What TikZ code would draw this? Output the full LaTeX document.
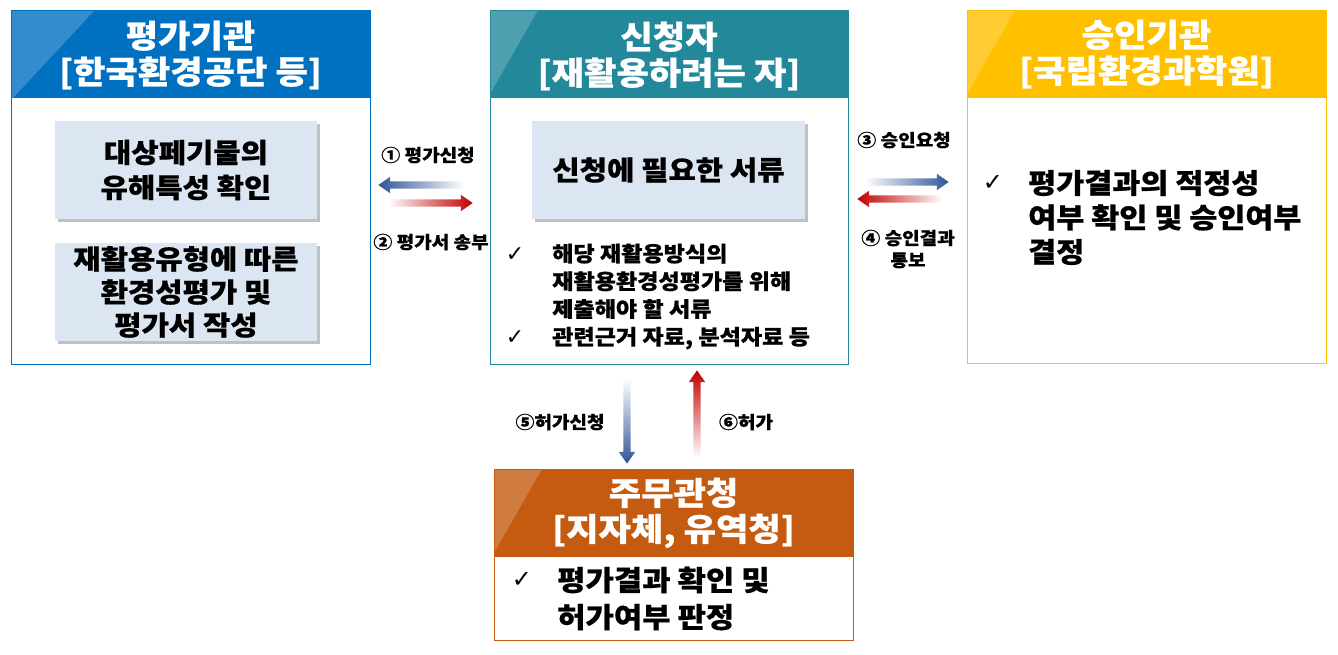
\documentclass[tikz,border=0pt]{standalone}
\usepackage{fontspec}
\setmainfont{Noto Sans CJK KR}[FakeStretch=1.1, BoldFeatures={FakeStretch=1.1, FakeBold=0.6}]
\newfontfamily\symfont{DejaVu Sans}
\usetikzlibrary{shapes.arrows,shadows}
\definecolor{hblue}{HTML}{0070C0}
\definecolor{hteal}{HTML}{23899A}
\definecolor{hyel}{HTML}{FFC000}
\definecolor{horg}{HTML}{C55A11}
\definecolor{boxfill}{HTML}{DCE6F2}
\definecolor{arblue}{HTML}{2F5597}
\definecolor{arred}{HTML}{C00000}
\tikzset{
  panel/.style={draw, line width=1.2pt, fill=none, inner sep=0, anchor=north west},
  hdr/.style={inner sep=0, anchor=north west, minimum height=88pt},
  ttl/.style={text=white, align=center, inner sep=0, font={\fontsize{32}{36}\selectfont\bfseries}},
  ibox/.style={fill=boxfill, inner sep=0, align=center, minimum width=262pt, minimum height=98pt,
     drop shadow={shadow xshift=3pt, shadow yshift=-3pt, opacity=0.35, fill=black!70},
     font={\fontsize{27}{35}\selectfont\bfseries}},
  chk/.style={inner sep=0, font={\symfont\fontsize{22}{24}\selectfont}},
  blist/.style={inner sep=0, anchor=west, align=left},
  lbl/.style={inner sep=0, font={\fontsize{17.3}{22}\selectfont\bfseries}},
  arw/.style={single arrow, draw=none, inner sep=0, inner ysep=3.5pt, single arrow head extend=4.5pt,
     single arrow tip angle=70, single arrow head indent=0pt},
}
\begin{document}
\begin{tikzpicture}[x=1pt,y=-1pt]
\useasboundingbox (0,0) rectangle (1338,655);
\fill[white] (0,0) rectangle (1338,655);

% headers
\node[hdr, fill=hblue, minimum width=359pt] (evalH) at (11,10) {};
\node[hdr, fill=hteal, minimum width=358pt] (appH) at (490,10) {};
\node[hdr, fill=hyel, minimum width=359pt] (apprH) at (967,10) {};
\node[hdr, fill=horg, minimum width=359pt] (authH) at (494,469) {};
% glossy highlights
\fill[white, opacity=0.2] (11,10) -- (95,10) -- (13,98) -- (11,98) -- cycle;
\fill[white, opacity=0.2] (490,10) -- (538,10) -- (490,94) -- cycle;
\fill[white, opacity=0.2] (967,10) -- (1015,10) -- (967,94) -- cycle;
\fill[white, opacity=0.2] (494,469) -- (542,469) -- (494,553) -- cycle;

% panels
\node[panel, draw=hblue, minimum width=359pt, minimum height=354pt] (evalP) at (11,10) {};
\node[panel, draw=hteal, minimum width=358pt, minimum height=354pt] (appP) at (490,10) {};
\node[panel, draw=hyel, minimum width=359pt, minimum height=353pt] (apprP) at (967,10) {};
\node[panel, draw=horg, minimum width=359pt, minimum height=171pt] (authP) at (494,469) {};

% titles
\node[ttl] (evalT) at (190.5,55) {평가기관\\{}[한국환경공단 등]};
\node[ttl] (appT) at (669,56) {신청자\\{}[재활용하려는 자]};
\node[ttl] (apprT) at (1146.5,54) {승인기관\\{}[국립환경과학원]};
\node[ttl] (authT) at (673.5,513) {주무관청\\{}[지자체, 유역청]};

% inner boxes
\node[ibox] (evalB1) at (186,170) {대상페기물의\\유해특성 확인};
\node[ibox, font={\fontsize{27}{33}\selectfont\bfseries}] (evalB2) at (186,292) {재활용유형에 따른\\환경성평가 및\\평가서 작성};
\node[ibox, minimum width=273pt] (appB) at (668.5,170) {신청에 필요한 서류};

% bullets middle
\node[chk] (appC1) at (515,255) {✓};
\node[chk] (appC2) at (515,338) {✓};
\node[blist, font={\fontsize{21}{27.7}\selectfont\bfseries}] (appL) at (552,296.5)
  {해당 재활용방식의\\재활용환경성평가를 위해\\제출해야 할 서류\\관련근거 자료, 분석자료 등};
% bullets right
\node[chk, font={\symfont\fontsize{24}{26}\selectfont}] (apprC) at (993,183) {✓};
\node[blist, font={\fontsize{27.7}{34.5}\selectfont\bfseries}] (apprL) at (1028,217.5)
  {평가결과의 적정성\\여부 확인 및 승인여부\\결정};
% bullets bottom
\node[chk, font={\symfont\fontsize{24}{26}\selectfont}] (authC) at (522,580) {✓};
\node[blist, font={\fontsize{28}{37}\selectfont\bfseries}] (authL) at (557,598.5)
  {평가결과 확인 및\\허가여부 판정};

% arrows left pair
\node[arw, minimum height=86pt, rotate=180, left color=arblue, right color=white] (a1) at (424,185) {};
\node[arw, minimum height=85pt, left color=white, right color=arred] (a2) at (427.5,203) {};
\node[lbl] (l1) at (428,155) {① 평가신청};
\node[lbl] (l2) at (431,242) {② 평가서 송부};
% arrows right pair
\node[arw, minimum height=84pt, left color=white, right color=arblue] (a3) at (904,182) {};
\node[arw, minimum height=85pt, rotate=180, left color=arred, right color=white] (a4) at (902.5,199) {};
\node[lbl] (l3) at (904,140) {③ 승인요청};
\node[lbl, align=center, font={\fontsize{17.3}{22}\selectfont\bfseries}] (l4) at (908,249) {④ 승인결과\\통보};
% vertical arrows
\node[arw, minimum height=85pt, rotate=-90, top color=white, bottom color=arblue] (a5) at (627,418.5) {};
\node[arw, minimum height=87pt, rotate=90, top color=arred, bottom color=white] (a6) at (697,416.5) {};
\node[lbl] (l5) at (560,422) {⑤허가신청};
\node[lbl] (l6) at (746,422) {⑥허가};
\end{tikzpicture}
\end{document}
